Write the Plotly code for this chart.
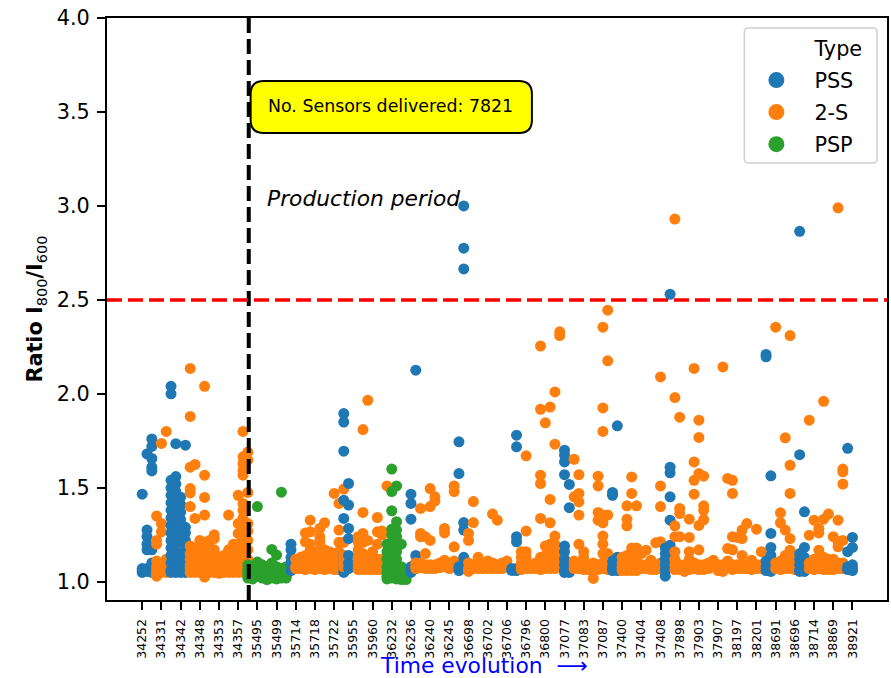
import plotly.graph_objects as go

tick_labels = ["34252","34331","34342","34348","34353","34357","35495","35499","35714","35718",
               "35722","35955","35960","36232","36236","36240","36245","36698","36702","36706",
               "36796","36800","37077","37083","37087","37400","37404","37408","37898","37903",
               "37907","38197","38201","38691","38696","38714","38869","38921"]
tick_step = 4
n_batches = 149
production_start = 22.2
threshold = 2.5

pss = {
 0:[1.466,1.07,1.06,1.05], 1:[1.68,1.275,1.24,1.2,1.17,1.07,1.055],
 2:[1.76,1.72,1.656,1.61,1.59,1.17,1.1,1.07,1.05],
 6:[2.04,2.0,1.54,1.5,1.46,1.42,1.38,1.34,1.3,1.26,1.22,1.18,1.14,1.1,1.06,1.05],
 7:[1.735,1.56,1.52,1.48,1.44,1.4,1.36,1.32,1.28,1.24,1.2,1.16,1.12,1.08,1.05],
 8:[1.45,1.41,1.37,1.33,1.3,1.26,1.22,1.15,1.11,1.08,1.05],
 9:[1.727,1.29,1.26,1.22,1.19,1.15,1.11,1.08,1.05],
 31:[1.2,1.17,1.13,1.1,1.06],
 42:[1.895,1.85,1.695,1.434,1.337,1.14,1.11,1.08,1.05],
 43:[1.523,1.408,1.284,1.23,1.14,1.1,1.07],
 56:[1.466,1.417,1.333,1.08,1.06,1.05], 57:[2.126,1.14,1.1,1.07],
 66:[1.745,1.576,1.08,1.06], 67:[3.0,2.775,2.665,1.315,1.275,1.13,1.1,1.07],
 77:[1.07,1.06], 78:[1.78,1.718,1.24,1.213,1.07,1.06],
 88:[1.70,1.674,1.638,1.57,1.19,1.16,1.12,1.09,1.06,1.05], 89:[1.518,1.394,1.08,1.05],
 98:[1.475,1.46,1.11,1.08,1.06], 99:[1.83,1.13,1.09,1.06],
 109:[1.18,1.15,1.12,1.09,1.06,1.03], 110:[2.53,1.61,1.58,1.452,1.328,1.195,1.16],
 130:[2.21,2.197,1.11,1.08,1.06], 131:[1.564,1.257,1.183,1.14,1.07,1.055],
 137:[2.865,1.676,1.15,1.12,1.09,1.06,1.055], 138:[1.372,1.183,1.13,1.09,1.055],
 147:[1.71,1.16,1.08,1.065], 148:[1.236,1.183,1.09,1.07,1.06],
}
two_s = {
 3:[1.35,1.22,1.2,1.11,1.08,1.06,1.04,1.03], 4:[1.736,1.31,1.266,1.1,1.08,1.06,1.05], 5:[1.8,1.12,1.09,1.06,1.05],
 10:[2.135,1.88,1.61,1.496,1.473,1.40,1.19,1.15,1.12,1.09,1.07,1.05],
 11:[1.624,1.337,1.17,1.13,1.1,1.07,1.05], 12:[1.22,1.2,1.17,1.14,1.12,1.09,1.06,1.05],
 13:[2.04,1.567,1.449,1.355,1.21,1.19,1.16,1.13,1.1,1.07,1.04,1.025], 14:[1.22,1.19,1.15,1.12,1.1,1.07,1.05],
 15:[1.25,1.23,1.17,1.15,1.12,1.09,1.07,1.05], 16:[1.13,1.11,1.08,1.05,1.045], 17:[1.14,1.12,1.1,1.07,1.05],
 18:[1.355,1.17,1.14,1.12,1.09,1.06,1.05], 19:[1.2,1.18,1.16,1.13,1.11,1.08,1.05],
 20:[1.46,1.31,1.257,1.2,1.18,1.16,1.14,1.12,1.09,1.06,1.05],
 21:[1.80,1.665,1.63,1.594,1.567,1.417,1.38,1.34,1.3,1.26,1.22,1.18,1.14,1.1,1.07,1.05],
 22:[1.69,1.647,1.475,1.31,1.27,1.22,1.17,1.12,1.08,1.05],
 32:[1.12,1.08,1.07], 33:[1.13,1.1,1.07], 34:[1.26,1.213,1.14,1.11,1.08,1.065], 35:[1.328,1.266,1.2,1.17,1.13,1.09,1.07],
 36:[1.15,1.12,1.08,1.065], 37:[1.284,1.24,1.213,1.17,1.14,1.11,1.09,1.07], 38:[1.314,1.17,1.14,1.11,1.08,1.065],
 39:[1.16,1.13,1.1,1.07], 40:[1.47,1.15,1.12,1.09,1.065], 41:[1.417,1.275,1.21,1.16,1.13,1.1,1.08,1.065], 42:[1.493,1.21,1.14,1.11,1.08],
 45:[1.24,1.21,1.17,1.13,1.1,1.08,1.065], 46:[1.81,1.369,1.257,1.21,1.15,1.12,1.08,1.065], 47:[1.966,1.22,1.124,1.08,1.065],
 48:[1.16,1.12,1.09,1.065], 49:[1.342,1.266,1.2,1.12,1.09,1.065], 50:[1.27,1.25,1.12,1.09,1.065], 51:[1.51,1.09,1.065],
 57:[1.1,1.08,1.07], 58:[1.39,1.257,1.24,1.1,1.075], 59:[1.24,1.15,1.09,1.07], 60:[1.496,1.40,1.22,1.09,1.07],
 61:[1.452,1.43,1.09,1.07], 62:[1.1,1.075], 63:[1.284,1.26,1.115,1.08], 64:[1.09,1.07], 65:[1.51,1.48,1.186,1.11,1.08],
 68:[1.257,1.22,1.1,1.07,1.055], 69:[1.427,1.315,1.09,1.07], 70:[1.13,1.09,1.07], 71:[1.1,1.07], 72:[1.11,1.07],
 73:[1.36,1.1,1.07], 74:[1.328,1.09,1.07], 75:[1.1,1.07], 76:[1.11,1.08], 79:[1.16,1.13,1.1,1.08,1.065],
 80:[1.67,1.27,1.16,1.13,1.1,1.07], 81:[1.09,1.07], 82:[1.1,1.07], 83:[2.254,1.918,1.567,1.523,1.337,1.13,1.1,1.08,1.065],
 84:[1.846,1.19,1.14,1.11,1.09,1.07], 85:[1.93,1.438,1.314,1.2,1.15,1.12,1.1,1.07], 86:[2.01,1.732,1.243,1.2,1.16,1.13,1.11,1.07],
 87:[2.33,2.31,1.12,1.08], 90:[1.652,1.452,1.11,1.09,1.07], 91:[1.57,1.47,1.425,1.355,1.2,1.1,1.07],
 92:[1.16,1.13,1.08,1.065], 93:[1.09,1.065], 94:[1.1,1.06,1.018], 95:[1.562,1.51,1.369,1.328,1.09,1.065],
 96:[2.355,1.925,1.80,1.355,1.314,1.243,1.2,1.15,1.1,1.07], 97:[2.445,2.176,1.355,1.15,1.08,1.065],
 100:[1.13,1.1,1.08,1.06], 101:[1.404,1.333,1.298,1.14,1.1,1.08,1.06], 102:[1.558,1.47,1.18,1.14,1.1,1.07,1.06],
 103:[1.404,1.18,1.12,1.08,1.06], 104:[1.15,1.09,1.07], 105:[1.168,1.09,1.07], 106:[1.115,1.08,1.065],
 107:[1.207,1.09,1.065], 108:[2.09,1.51,1.40,1.213,1.1,1.07], 111:[2.93,1.98,1.298,1.24,1.16,1.12,1.09,1.065],
 112:[1.876,1.39,1.363,1.24,1.09,1.065], 113:[1.09,1.055], 114:[1.333,1.236,1.16,1.12,1.09,1.065],
 115:[2.135,1.638,1.54,1.466,1.1,1.07], 116:[1.86,1.768,1.576,1.3,1.17,1.09,1.065], 117:[1.562,1.404,1.38,1.33,1.09,1.065],
 118:[1.1,1.07], 119:[1.115,1.08], 120:[1.09,1.06], 121:[2.143,1.09,1.055], 122:[1.55,1.177,1.11,1.08],
 123:[1.54,1.47,1.24,1.17,1.09,1.065], 124:[1.236,1.09,1.07], 125:[1.275,1.23,1.14,1.09,1.07], 126:[1.31,1.09,1.07],
 127:[1.115,1.08,1.065], 128:[1.28,1.09,1.07], 129:[1.16,1.09,1.07], 132:[2.355,1.1,1.07], 133:[1.367,1.314,1.11,1.08,1.065],
 134:[1.766,1.275,1.14,1.09,1.07], 135:[2.31,1.62,1.47,1.23,1.168,1.1,1.07], 136:[1.12,1.08,1.065],
 139:[1.86,1.248,1.1,1.07], 140:[1.328,1.12,1.09,1.065], 141:[1.284,1.26,1.168,1.11,1.07], 142:[1.96,1.333,1.13,1.08,1.065],
 143:[1.36,1.12,1.09,1.065], 144:[1.24,1.12,1.08,1.065], 145:[2.99,1.328,1.213,1.186,1.1,1.07], 146:[1.6,1.585,1.52,1.22,1.1,1.07],
}
psp = {
 22:[1.09,1.06,1.04,1.02], 23:[1.08,1.05,1.03,1.015], 24:[1.40,1.105,1.08,1.05,1.03], 25:[1.09,1.06,1.04,1.02],
 26:[1.08,1.05,1.03,1.012], 27:[1.172,1.1,1.07,1.04,1.02], 28:[1.142,1.08,1.05,1.03,1.015], 29:[1.477,1.07,1.05,1.03,1.02],
 30:[1.08,1.05,1.03,1.02], 51:[1.2,1.16,1.12,1.08,1.05,1.03,1.015],
 52:[1.6,1.48,1.378,1.28,1.25,1.21,1.17,1.13,1.09,1.05,1.02], 53:[1.51,1.32,1.275,1.24,1.2,1.16,1.12,1.08,1.04,1.015],
 54:[1.2,1.08,1.05,1.02,1.012], 55:[1.06,1.03,1.012],
}
series = [("PSS", pss, "#1f77b4"), ("2-S", two_s, "#ff7f0e"), ("PSP", psp, "#2ca02c")]

W, H = 891, 678
L, R, T, B = 107, 889, 18, 600
px = lambda x: (x - L) / (R - L)
py = lambda y: (B - y) / (B - T)


def rounded(xa, xb, ya, yb, r):
    x0, x1, y0, y1 = px(xa), px(xb), py(ya), py(yb)
    rx, ry = r / (R - L), r / (B - T)
    return (f"M {x0+rx},{y0} L {x1-rx},{y0} Q {x1},{y0} {x1},{y0-ry} L {x1},{y1+ry} Q {x1},{y1} {x1-rx},{y1} "
            f"L {x0+rx},{y1} Q {x0},{y1} {x0},{y1+ry} L {x0},{y0-ry} Q {x0},{y0} {x0+rx},{y0} Z")


fig = go.Figure()
# drawn batch by batch so that later batches overlap earlier ones
for i in range(n_batches):
    for name, data, color in series:
        if i in data:
            fig.add_trace(go.Scatter(x=[i] * len(data[i]), y=data[i], mode="markers", name=name,
                                     showlegend=False, hoverinfo="y",
                                     marker=dict(size=11, color=color, line=dict(width=0))))
fig.add_trace(go.Scatter(x=[None], y=[None], mode="markers", name="Type", legendgroup="Type",
                         marker=dict(size=16, color="rgba(0,0,0,0)", line=dict(width=0))))
for name, data, color in series:
    fig.add_trace(go.Scatter(x=[None], y=[None], mode="markers", name=name, legendgroup=name,
                             marker=dict(size=16, color=color, line=dict(width=0))))

fig.update_layout(
    width=W, height=H, autosize=False,
    margin=dict(l=L, r=W - R, t=T, b=H - B, pad=0),
    plot_bgcolor="white", paper_bgcolor="white",
    font=dict(family="DejaVu Sans", color="black", size=20.8),
    xaxis=dict(range=[-7.34, 155.2], tickmode="array",
               tickvals=[k * tick_step for k in range(len(tick_labels))], ticktext=tick_labels,
               tickangle=-90, tickfont=dict(size=12.5), ticks="outside", ticklen=8, tickwidth=2,
               tickcolor="black", showline=True, linecolor="black", linewidth=2, mirror=True,
               showgrid=False, zeroline=False, ticklabelstandoff=4),
    yaxis=dict(range=[0.903, 4.0], tickmode="array", tickvals=[1, 1.5, 2, 2.5, 3, 3.5, 4],
               ticktext=["1.0", "1.5", "2.0", "2.5", "3.0", "3.5", "4.0"], ticklabelstandoff=3,
               ticks="outside", ticklen=8, tickwidth=2, tickcolor="black", showline=True,
               linecolor="black", linewidth=2, mirror=True, showgrid=False, zeroline=False,
               title=dict(text="<b>Ratio I</b><sub>800</sub><b>/I</b><sub>600</sub>",
                          font=dict(size=20.8), standoff=8)),
    legend=dict(x=px(740), y=py(28), xanchor="left", yanchor="top", bgcolor="rgba(0,0,0,0)",
                borderwidth=0, itemwidth=66, tracegroupgap=2, font=dict(size=20.8), itemclick=False),
    shapes=[
        dict(type="line", xref="x", yref="paper", x0=production_start, x1=production_start, y0=0, y1=1,
             line=dict(color="black", width=4, dash="15px,6px")),
        dict(type="line", xref="paper", yref="y", x0=0, x1=1, y0=threshold, y1=threshold,
             line=dict(color="red", width=3.5, dash="15px,6px")),
        dict(type="path", xref="paper", yref="paper", path=rounded(251, 533, 81, 133, 13), fillcolor="yellow",
             line=dict(color="black", width=2)),
        dict(type="path", xref="paper", yref="paper", path=rounded(746, 879, 28, 163, 4), fillcolor="white",
             line=dict(color="#d0d0d0", width=1.5)),
    ],
    annotations=[
        dict(text="No. Sensors delivered: 7821", xref="paper", yref="paper", x=px(391), y=py(106),
             xanchor="center", yanchor="middle", showarrow=False, font=dict(size=17.4, color="black")),
        dict(text="<i>Production period</i>", xref="paper", yref="paper", x=px(265), y=py(198),
             xanchor="left", yanchor="middle", showarrow=False, font=dict(size=21.8, color="black")),
        dict(text="Time evolution  \u27f6", xref="paper", yref="paper", x=px(379), y=py(665.5),
             xanchor="left", yanchor="middle", showarrow=False, font=dict(size=21.8, color="blue")),
    ],
)
fig.write_html("out.html", post_script="document.body.style.margin='0';document.body.style.overflow='hidden';",
               config={"displayModeBar": False})
